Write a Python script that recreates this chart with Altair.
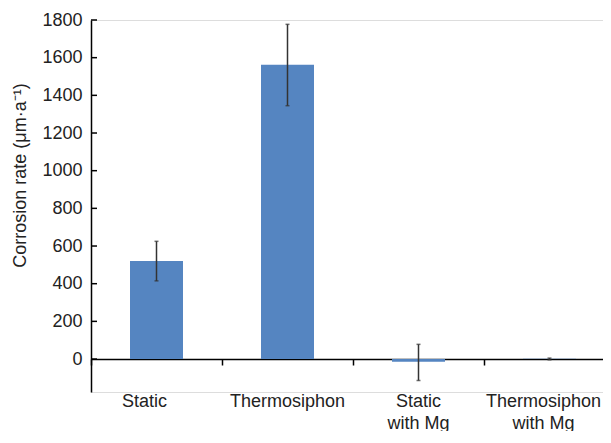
import altair as alt
import pandas as pd

categories = ["Static", "Thermosiphon", "Static\nwith Mg", "Thermosiphon\nwith Mg"]
values = [520, 1562, -15, 1]
err_low = [415, 1345, -114, -4]
err_high = [625, 1777, 78, 5]
y_ticks = [0, 200, 400, 600, 800, 1000, 1200, 1400, 1600, 1800]

df = pd.DataFrame({"cat": categories, "v": values, "lo": err_low, "hi": err_high})
tick_df = pd.DataFrame({"t": y_ticks})

FONT = "Liberation Sans"
xscale = alt.Scale(domain=categories, paddingInner=0, paddingOuter=0)
yscale = alt.Scale(domain=[-175, 1800], nice=False, zero=False)

x_axis = alt.Axis(
    title=None,
    orient="bottom",
    offset=-33,
    domain=True,
    domainColor="#000000",
    domainWidth=1.5,
    ticks=True,
    bandPosition=0,
    tickSize=6,
    tickColor="#000000",
    tickWidth=1.5,
    labelAngle=0,
    labelPadding=27,
    labelOffset={
        "condition": [
            {"test": "datum.value === 'Static'", "value": -12},
            {"test": "indexof(datum.value, 'Thermosiphon\\n') === 0", "value": -6},
        ],
        "value": 0,
    },
    labelFont=FONT,
    labelFontSize=18,
    labelColor="#222222",
    labelLineHeight=22,
    labelBaseline="top",
    labelExpr="split(datum.label, '\\n')",
    grid=False,
)

y_axis = alt.Axis(
    title="Corrosion rate (μm·a⁻¹)",
    values=y_ticks,
    format="d",
    ticks=False,
    domain=True,
    domainColor="#000000",
    domainWidth=1.5,
    grid=False,
    labelFont=FONT,
    labelFontSize=18,
    labelColor="#222222",
    labelPadding=9,
    titleFont=FONT,
    titleFontSize=18,
    titleFontWeight="normal",
    titleColor="#222222",
    titleAngle=-90,
    titleBaseline="top",
    titleX=-80,
    titleY=155,
)


def X():
    return alt.X("cat:N", scale=xscale, sort=categories, axis=x_axis)


def Y(field):
    return alt.Y(field, scale=yscale, axis=y_axis)


bars = alt.Chart(df).mark_bar(size=53, color="#5585C1").encode(
    x=X(),
    y=Y("v:Q"),
    y2=alt.datum(0),
)

err = alt.Chart(df).mark_rule(color="#333333", strokeWidth=1.5).encode(
    x=X(),
    y=Y("lo:Q"),
    y2="hi:Q",
)

cap_lo = alt.Chart(df).mark_tick(color="#333333", size=4, thickness=1.5).encode(
    x=X(),
    y=Y("lo:Q"),
)
cap_hi = alt.Chart(df).mark_tick(color="#333333", size=4, thickness=1.5).encode(
    x=X(),
    y=Y("hi:Q"),
)

yticks = alt.Chart(tick_df).mark_rule(color="#000000", strokeWidth=1.5).encode(
    y=Y("t:Q"),
    x=alt.value(0),
    x2=alt.value(6),
)

chart = (
    alt.layer(bars, err, cap_lo, cap_hi, yticks)
    .properties(
        width=524,
        height=372,
        autosize=alt.AutoSizeParams(type="none"),
        padding={"left": 83, "top": 12, "right": -12, "bottom": 39},
    )
    .configure_view(stroke=None)
    .configure(background="white")
)

chart.save("out.html", embed_options={"renderer": "svg", "actions": False})
